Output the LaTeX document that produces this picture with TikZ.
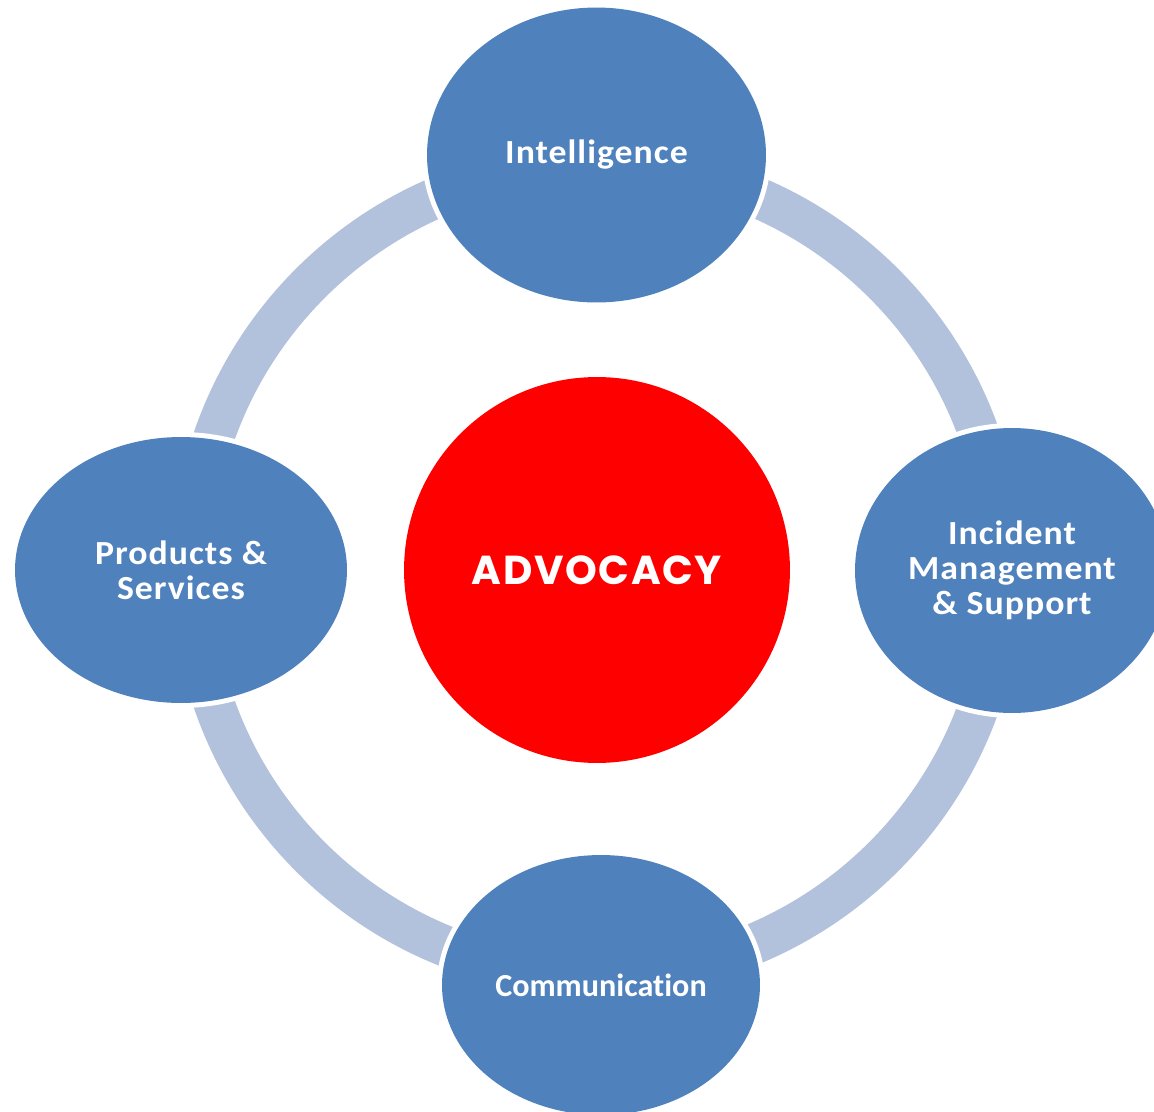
\documentclass[tikz,border=0pt]{standalone}
\usepackage{fontspec}
\setmainfont{Carlito}[Ligatures=NoCommon]
\newfontfamily\widefont{Carlito}[Ligatures=NoCommon,FakeStretch=1.06,LetterSpace=3]
\newfontfamily\advfont{Poppins}[LetterSpace=4]
\usetikzlibrary{shapes.geometric}
\definecolor{nodeblue}{HTML}{4F81BD}
\definecolor{ringblue}{HTML}{B2C1DC}
\definecolor{advred}{HTML}{FF0000}
\begin{document}
\begin{tikzpicture}[x=0.02cm,y=-0.02cm,
  ring/.style={draw=ringblue,line width=0.82cm},
  bubble/.style={ellipse,fill=nodeblue,inner sep=0pt,
    preaction={draw=white,line width=0.2cm},
    text=white,align=center,
    font=\widefont\fontsize{19.2}{19.8}\selectfont\bfseries},
  core/.style={circle,fill=advred,inner sep=0pt,minimum size=7.72cm,
    text=white,font=\advfont\fontsize{23}{26}\selectfont\bfseries}]
\useasboundingbox (0,0) rectangle (1154,1112);
\clip (0,0) rectangle (1154,1112);
\draw[ring] (597,570) circle[radius=8.11cm];
\node[bubble,minimum width=6.78cm,minimum height=5.9cm] (intel) at (596.5,155) {Intelligence};
\node[bubble,minimum width=6.28cm,minimum height=5.7cm] (incident) at (1012,570.5) {Incident\\Management\\\& Support};
\node[bubble,minimum width=6.64cm,minimum height=5.32cm] (products) at (181,570) {Products \&\\Services};
\node[bubble,minimum width=6.36cm,minimum height=5.2cm,
  font=\rmfamily\fontsize{18.3}{18.8}\selectfont\bfseries] (comm) at (601,985) {Communication};
\node[core] (adv) at (597,570) {ADVOCACY};
\end{tikzpicture}
\end{document}
